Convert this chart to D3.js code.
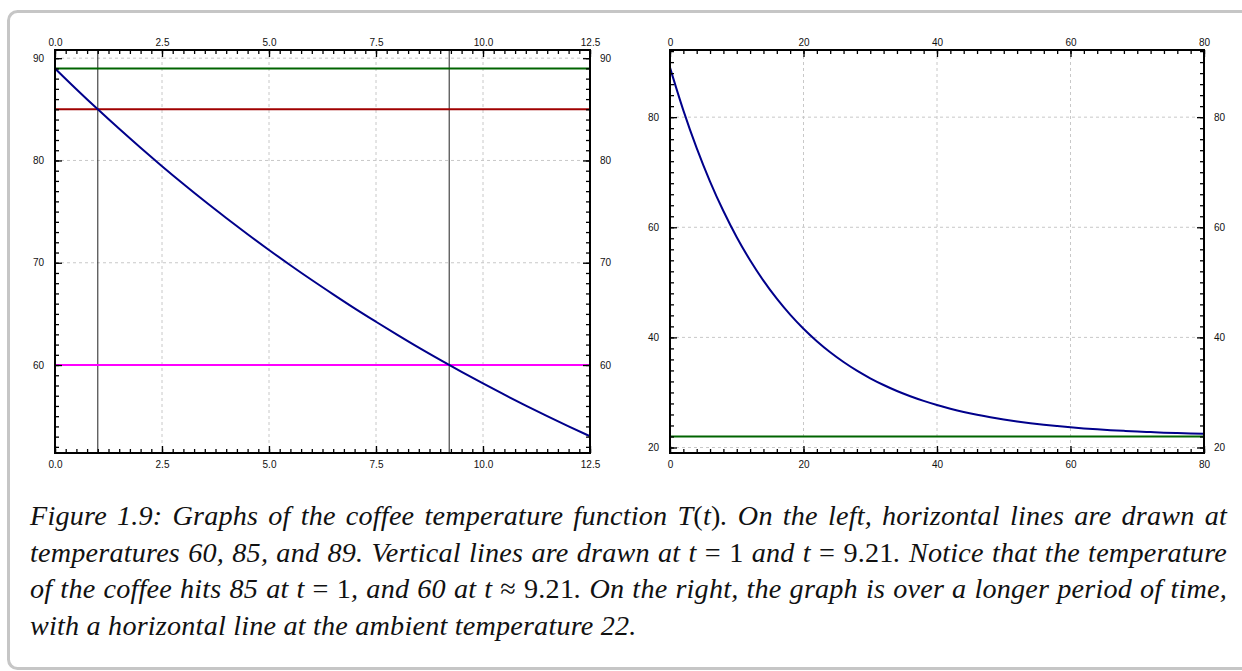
<!DOCTYPE html>
<html>
<head>
<meta charset="utf-8">
<script src="https://cdn.jsdelivr.net/npm/d3@7"></script>
<style>
  html, body { margin: 0; padding: 0; background: #fff; }
  svg { display: block; }
  .tick text { font-family: "Liberation Sans", Arial, sans-serif; font-size: 10px; fill: #111; }
  .caption { font-family: "Liberation Serif", "DejaVu Serif", serif; font-style: italic; fill: #111; }
</style>
</head>
<body>
<svg id="chart" width="1242" height="671"></svg>
<script>
// ---- data ----
// left panel: T(t) read every 0.5 minutes
var leftT = [0, 0.5, 1, 1.5, 2, 2.5, 3, 3.5, 4, 4.5, 5, 5.5, 6, 6.5, 7, 7.5, 8, 8.5, 9, 9.5, 10, 10.5, 11, 11.5, 12, 12.5];
var leftTemp = [89.00, 86.97, 85.00, 83.09, 81.24, 79.44, 77.70, 76.01, 74.38, 72.79, 71.25, 69.76, 68.31,
                66.91, 65.54, 64.23, 62.95, 61.70, 60.50, 59.33, 58.20, 57.10, 56.04, 55.01, 54.01, 53.04];
var leftHLines = [60, 85, 89];
var leftHColors = ['#ff00ff', '#a00000', '#006400'];
var leftVLines = [1, 9.21];
var leftXTicks = [0, 2.5, 5, 7.5, 10, 12.5];
var leftYTicks = [60, 70, 80, 90];

// right panel: T(t) read every 2 minutes
var rightT = [0, 2, 4, 6, 8, 10, 12, 14, 16, 18, 20, 22, 24, 26, 28, 30, 32, 34, 36, 38, 40,
              42, 44, 46, 48, 50, 52, 54, 56, 58, 60, 62, 64, 66, 68, 70, 72, 74, 76, 78, 80];
var rightTemp = [89.00, 81.24, 74.38, 68.31, 62.95, 58.20, 54.01, 50.30, 47.02, 44.12, 41.56,
                 39.30, 37.29, 35.52, 33.95, 32.57, 31.35, 30.26, 29.31, 28.46, 27.71,
                 27.05, 26.46, 25.95, 25.49, 25.09, 24.73, 24.41, 24.13, 23.89, 23.67,
                 23.47, 23.30, 23.15, 23.02, 22.90, 22.80, 22.70, 22.62, 22.55, 22.49];
var rightHLines = [22];
var rightHColors = ['#006400'];
var rightXTicks = [0, 20, 40, 60, 80];
var rightYTicks = [20, 40, 60, 80];

var captionLines = [
  [['Figure 1.9: Graphs of the coffee temperature function ', 'i'], ['T', 'i'], ['(', 'n'], ['t', 'i'], [')', 'n'], ['. On the left, horizontal lines are drawn at', 'i']],
  [['temperatures 60, 85, and 89. Vertical lines are drawn at ', 'i'], ['t', 'i'], [' = 1', 'n'], [' and ', 'i'], ['t', 'i'], [' = 9.21', 'n'], ['. Notice that the temperature', 'i']],
  [['of the coffee hits 85 at ', 'i'], ['t', 'i'], [' = 1', 'n'], [', and 60 at ', 'i'], ['t', 'i'], [' \u2248 9.21', 'n'], ['. On the right, the graph is over a longer period of time,', 'i']],
  [['with a horizontal line at the ambient temperature 22.', 'i']]
];

var svg = d3.select('#chart');

// outer frame of the figure box
svg.append('rect')
  .attr('x', 8.5).attr('y', 11.5)
  .attr('width', 1300).attr('height', 657)
  .attr('rx', 9)
  .attr('fill', 'none')
  .attr('stroke', '#c6c6c6')
  .attr('stroke-width', 3);

function panel(opts) {
  var g = svg.append('g');
  var x = d3.scaleLinear().domain(opts.xDomain).range([opts.left, opts.right]);
  var y = d3.scaleLinear().domain(opts.yDomain).range([opts.bottom, opts.top]);
  var w = opts.right - opts.left, h = opts.bottom - opts.top;

  // grid
  g.append('g').selectAll('line')
    .data(opts.xTicks.filter(function (d) { return d > opts.xDomain[0] && d < opts.xDomain[1]; }))
    .enter().append('line')
    .attr('x1', function (d) { return x(d); }).attr('x2', function (d) { return x(d); })
    .attr('y1', opts.top).attr('y2', opts.bottom)
    .attr('stroke', '#c8c8c8').attr('stroke-dasharray', '3,3').attr('stroke-width', 1);
  g.append('g').selectAll('line')
    .data(opts.yTicks)
    .enter().append('line')
    .attr('y1', function (d) { return y(d); }).attr('y2', function (d) { return y(d); })
    .attr('x1', opts.left).attr('x2', opts.right)
    .attr('stroke', '#c8c8c8').attr('stroke-dasharray', '3,3').attr('stroke-width', 1);

  // reference lines
  (opts.vLines || []).forEach(function (v) {
    g.append('line')
      .attr('x1', x(v)).attr('x2', x(v))
      .attr('y1', opts.top).attr('y2', opts.bottom)
      .attr('stroke', '#222').attr('stroke-width', 1);
  });
  opts.hLines.forEach(function (v, i) {
    g.append('line')
      .attr('x1', opts.left).attr('x2', opts.right)
      .attr('y1', y(v)).attr('y2', y(v))
      .attr('stroke', opts.hColors[i]).attr('stroke-width', 2);
  });

  // the curve
  var pts = opts.t.map(function (t, i) { return [t, opts.temp[i]]; });
  g.append('path')
    .datum(pts)
    .attr('fill', 'none')
    .attr('stroke', '#00008b')
    .attr('stroke-width', 2)
    .attr('d', d3.line()
      .x(function (d) { return x(d[0]); })
      .y(function (d) { return y(d[1]); })
      .curve(d3.curveMonotoneX));

  // axes: minor + major ticks pointing inward on all four sides
  var minorX = d3.range(opts.xDomain[0], opts.xDomain[1] + 1e-9, opts.xMinor);
  var minorY = d3.range(Math.ceil(opts.yDomain[0] / opts.yMinor) * opts.yMinor, opts.yDomain[1], opts.yMinor);
  var fmtX = opts.xFormat, fmtY = d3.format('d');

  function styleAxis(sel) {
    sel.select('.domain').remove();
    sel.selectAll('.tick line').attr('stroke', '#000').attr('stroke-width', 1.3);
  }

  g.append('g').attr('transform', 'translate(0,' + opts.bottom + ')')
    .call(d3.axisBottom(x).tickValues(minorX).tickSize(-4).tickFormat(''))
    .call(styleAxis);
  g.append('g').attr('transform', 'translate(0,' + opts.bottom + ')')
    .call(d3.axisBottom(x).tickValues(opts.xTicks).tickSize(-7).tickPadding(8).tickFormat(fmtX))
    .call(styleAxis);
  g.append('g').attr('transform', 'translate(0,' + opts.top + ')')
    .call(d3.axisTop(x).tickValues(minorX).tickSize(-4).tickFormat(''))
    .call(styleAxis);
  g.append('g').attr('transform', 'translate(0,' + opts.top + ')')
    .call(d3.axisTop(x).tickValues(opts.xTicks).tickSize(-7).tickPadding(4.5).tickFormat(fmtX))
    .call(styleAxis);

  g.append('g').attr('transform', 'translate(' + opts.left + ',0)')
    .call(d3.axisLeft(y).tickValues(minorY).tickSize(-4).tickFormat(''))
    .call(styleAxis);
  g.append('g').attr('transform', 'translate(' + opts.left + ',0)')
    .call(d3.axisLeft(y).tickValues(opts.yTicks).tickSize(-7).tickPadding(11).tickFormat(fmtY))
    .call(styleAxis);
  g.append('g').attr('transform', 'translate(' + opts.right + ',0)')
    .call(d3.axisRight(y).tickValues(minorY).tickSize(-4).tickFormat(''))
    .call(styleAxis);
  g.append('g').attr('transform', 'translate(' + opts.right + ',0)')
    .call(d3.axisRight(y).tickValues(opts.yTicks).tickSize(-7).tickPadding(10).tickFormat(fmtY))
    .call(styleAxis);

  // frame
  g.append('rect')
    .attr('x', opts.left).attr('y', opts.top)
    .attr('width', w).attr('height', h)
    .attr('fill', 'none').attr('stroke', '#000').attr('stroke-width', 2);
}

panel({
  left: 55, right: 590, top: 50, bottom: 453,
  xDomain: [0, 12.5], yDomain: [51.4, 90.8],
  xTicks: leftXTicks, yTicks: leftYTicks, xMinor: 0.25, yMinor: 1,
  xFormat: d3.format('.1f'),
  t: leftT, temp: leftTemp,
  hLines: leftHLines, hColors: leftHColors, vLines: leftVLines
});

panel({
  left: 670, right: 1204, top: 50, bottom: 453,
  xDomain: [0, 80], yDomain: [19.0, 92.2],
  xTicks: rightXTicks, yTicks: rightYTicks, xMinor: 2, yMinor: 2,
  xFormat: d3.format('d'),
  t: rightT, temp: rightTemp,
  hLines: rightHLines, hColors: rightHColors
});

// caption, justified line by line
var capLeft = 30, capWidth = 1197, baselines = [525, 561.5, 598, 634.5];
var fontSize = 29;
var cap = svg.append('g');
var texts = captionLines.map(function (parts, li) {
  var t = cap.append('text').attr('class', 'caption')
    .attr('x', capLeft).attr('y', baselines[li])
    .style('font-size', fontSize + 'px')
    .style('letter-spacing', '0.2px');
  parts.forEach(function (p) {
    t.append('tspan').text(p[0]).style('font-style', p[1] === 'n' ? 'normal' : 'italic');
  });
  return t;
});
// shrink the font if the widest full line does not fit
var widest = d3.max(texts.slice(0, 3), function (t) { return t.node().getComputedTextLength(); });
if (widest > capWidth - 20) {
  fontSize = fontSize * (capWidth - 20) / widest;
  texts.forEach(function (t) { t.style('font-size', fontSize + 'px'); });
}
texts.forEach(function (t, li) {
  if (li === texts.length - 1) return;
  var natural = t.node().getComputedTextLength();
  var spaces = (t.text().match(/ /g) || []).length;
  t.style('word-spacing', ((capWidth - natural) / spaces) + 'px');
});
</script>
</body>
</html>
